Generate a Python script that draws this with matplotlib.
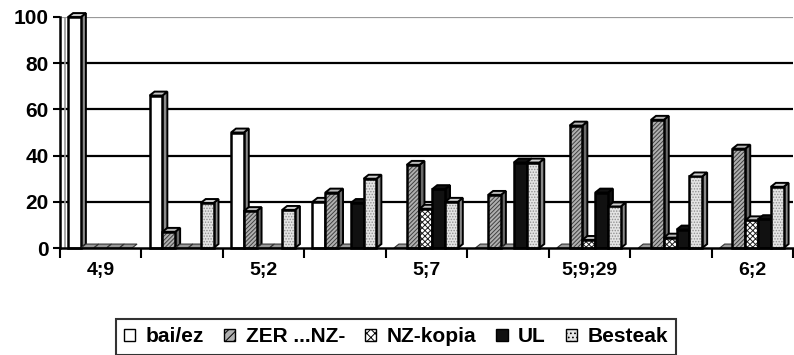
import numpy as np
import matplotlib.pyplot as plt
from matplotlib.patches import Polygon, Patch

plt.rcParams['font.family'] = ['Liberation Sans', 'DejaVu Sans']
plt.rcParams['font.weight'] = 'bold'
plt.rcParams['hatch.linewidth'] = 0.7

# categories (every second label is hidden in the original)
categories = ['4;9', '', '5;2', '', '5;7', '', '5;9;29', '', '6;2']
series = ['bai/ez', 'ZER ...NZ-', 'NZ-kopia', 'UL', 'Besteak']

bai_ez  = [100, 66, 50, 20, 0, 0, 0, 0, 0]
zer_nz  = [0, 7, 16, 24, 36, 23, 53, 55.5, 43]
nz_kop  = [0, 0, 0, 0, 17, 0, 3.5, 4.5, 12]
ul      = [0, 0, 0, 19.5, 25.5, 37, 24, 8, 12.5]
besteak = [0, 19.5, 16.5, 30, 20, 37, 18, 31, 26.5]
values = [bai_ez, zer_nz, nz_kop, ul, besteak]

# face, hatch, hatch colour, side colour, top colour
styles = [
    ('white',   '',         'white',   '#8a8a8a', '#c8c8c8'),
    ('#b0b0b0', '////////', '#404040', '#6a6a6a', '#b8b8b8'),
    ('white',   'xxxxxx',   '#202020', '#505050', '#bdbdbd'),
    ('#111111', '',         '#111111', '#111111', '#111111'),
    ('#e4e4e4', '......',   '#909090', '#8a8a8a', '#cfcfcf'),
]

fig = plt.figure(figsize=(7.94, 3.55), dpi=100)
ax = fig.add_axes([60/794, 107/355, 733/794, 231/355])

w = 0.157
start = 0.1
dx = 0.061
dy = 1.7

for k, vals in enumerate(values):
    face, hatch, hcol, side, top = styles[k]
    for i, v in enumerate(vals):
        x0 = i + start + k*w
        x1 = x0 + w
        z = 3 + i*10 + k*2
        if v == 0:
            # flat bar lying on the floor
            ax.add_patch(Polygon([(x0, 0), (x1, 0), (x1+dx, dy), (x0+dx, dy)],
                                 closed=True, facecolor='#9a9a9a', edgecolor='#333333',
                                 lw=0.8, zorder=z, clip_on=False))
            continue
        # side
        ax.add_patch(Polygon([(x1, 0), (x1+dx, dy), (x1+dx, v+dy), (x1, v)],
                             closed=True, facecolor=side, edgecolor='black',
                             lw=1.4, zorder=z, clip_on=False))
        # front
        ax.add_patch(Polygon([(x0, 0), (x1, 0), (x1, v), (x0, v)], closed=True,
                             facecolor=face, hatch=hatch, edgecolor=hcol,
                             lw=0, zorder=z, clip_on=False))
        ax.add_patch(Polygon([(x0, 0), (x1, 0), (x1, v), (x0, v)], closed=True,
                             fill=False, edgecolor='black', lw=1.8,
                             zorder=z, clip_on=False))
        # top
        ax.add_patch(Polygon([(x0, v), (x1, v), (x1+dx, v+dy), (x0+dx, v+dy)],
                             closed=True, facecolor=top, edgecolor='black',
                             lw=1.4, zorder=z, clip_on=False))

for g in [20, 40, 60, 80]:
    ax.axhline(g, color='black', lw=1.6, zorder=1)
ax.axhline(100, color='#999999', lw=1.6, zorder=1)
ax.axvline(dx, color='#999999', lw=1.2, zorder=1)

ax.set_xlim(0, 9)
ax.set_ylim(0, 100)
ax.set_yticks([0, 20, 40, 60, 80, 100])
ax.tick_params(axis='y', labelsize=15, width=1.5, length=5, direction='out', pad=3)
ax.set_xticks(np.arange(0, 10))
ax.set_xticklabels([])
ax.set_xticks(np.arange(9) + 0.5, minor=True)
ax.set_xticklabels(categories, minor=True)
ax.tick_params(axis='x', which='major', width=1.5, length=7, direction='out')
ax.tick_params(axis='x', which='minor', length=0, labelsize=14, pad=10)

for s in ['top', 'right']:
    ax.spines[s].set_visible(False)
ax.spines['left'].set_linewidth(1.8)
ax.spines['bottom'].set_linewidth(1.8)
ax.spines['bottom'].set_zorder(200)

handles = []
for k, name in enumerate(series):
    face, hatch, hcol, side, top = styles[k]
    handles.append(Patch(facecolor=face, hatch=hatch[:4], edgecolor='black', lw=1.0, label=name))
leg = fig.legend(handles=handles, loc='upper center', bbox_to_anchor=(396/794, 1 - 319/355),
                 ncol=5, fontsize=15, frameon=True, fancybox=False, edgecolor='black',
                 handlelength=0.55, handleheight=0.55, handletextpad=0.5,
                 columnspacing=0.95, borderpad=0.4, borderaxespad=0)
leg.get_frame().set_linewidth(1.5)

fig.savefig('out.png', dpi=100)
